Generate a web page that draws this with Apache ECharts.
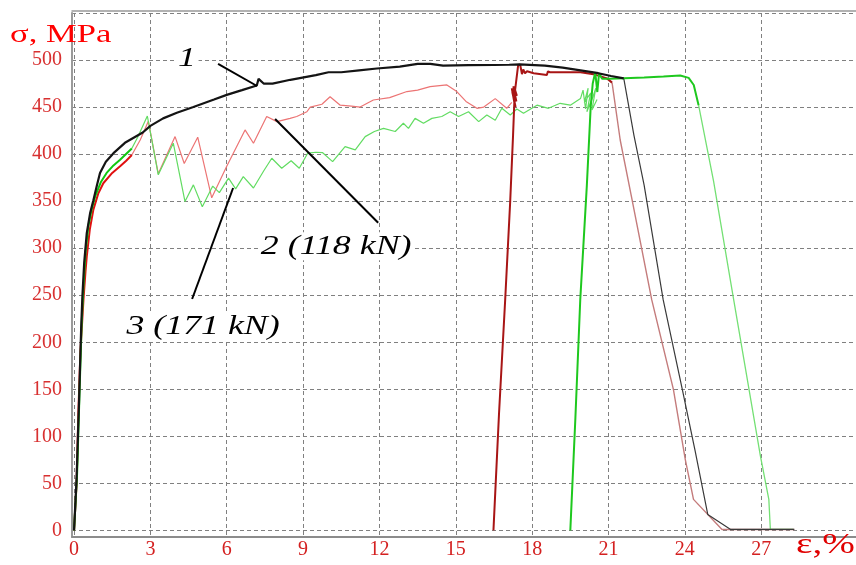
<!DOCTYPE html>
<html>
<head>
<meta charset="utf-8">
<script src="https://cdn.jsdelivr.net/npm/echarts@6/dist/echarts.min.js"></script>
<style>html,body{margin:0;padding:0;background:#fff;overflow:hidden}#c{width:856px;height:565px}</style>
</head>
<body>
<div id="c"></div>
<script>
// strain ε (%) , stress σ (MPa)
const xTicks = [0, 3, 6, 9, 12, 15, 18, 21, 24, 27];
const xGrid = [0, 3, 6, 9, 12, 15, 18, 21, 24, 27, 30];
const yTicks = [0, 50, 100, 150, 200, 250, 300, 350, 400, 450, 500];
const yGrid = [0, 50, 100, 150, 200, 250, 300, 350, 400, 450, 500, 550];

// Curve 1 (black)
const curve1Main = [[0,0],[0.1,55],[0.2,140],[0.28,215],[0.33,250],[0.4,285],[0.5,316],[0.63,337],[0.76,351],[0.9,367],[1.02,380],[1.25,392],[1.55,401],[2.0,412],[2.7,423],[3.0,430],[3.5,438],[4.04,444],[4.69,450],[5.5,458],[6.0,463],[6.6,468],[7.18,473],[7.25,480],[7.31,479],[7.45,475],[7.8,475],[8.5,479],[9.5,484],[10.0,487],[10.5,487],[11.2,489],[11.9,491],[12.8,493],[13.5,496],[14.0,496],[14.5,494],[15.5,494.5],[16.5,494.7],[17.1,495],[17.5,495.4],[18.5,494],[19.2,492],[19.9,489],[20.6,486],[21.1,483],[21.6,480.5]];
const curve1Drop = [[21.6,480.5],[22.0,420],[22.4,367],[23.15,245],[23.9,150],[24.4,85],[24.9,17],[25.8,1],[28.3,1]];

// Curve 2 (red, 118 kN)
const curve2Start = [[0,0],[0.1,50],[0.17,125],[0.25,190],[0.37,245],[0.45,275],[0.5,291],[0.62,320],[0.76,341],[0.95,358],[1.15,369],[1.5,380],[1.81,387],[2.05,393],[2.27,399]];
const curve2Wave = [[2.27,399],[2.6,415],[2.92,435],[3.31,379],[3.97,418.6],[4.33,390],[4.86,418],[5.41,353.5],[6.0,387],[6.72,425.7],[7.05,411.6],[7.57,440],[7.97,434.5],[8.49,438],[8.75,440],[9.15,445],[9.28,450],[9.74,453],[10.06,461],[10.46,452],[10.9,451],[11.24,450],[11.76,457.5],[12.4,460],[13.08,466.5],[13.5,468],[13.99,471.7],[14.65,473.5],[15.04,466.5],[15.4,456],[15.83,448.7],[16.1,450],[16.55,459],[17.0,448.7],[17.2,455]];
const curve2Reload = [[16.48,0],[16.7,125],[16.94,245],[17.14,351],[17.25,420],[17.3,455],[17.2,470],[17.35,450],[17.22,466],[17.38,456],[17.26,472],[17.4,462],[17.33,468],[17.45,494.7],[17.53,495],[17.6,485],[17.65,490],[17.72,486],[17.8,488],[18.06,486],[18.58,484],[18.62,488],[18.7,487],[19.4,487],[19.9,487],[20.41,485],[20.94,480.5],[21.14,476]];
const curve2Drop = [[21.14,476],[21.46,415],[21.9,355],[22.7,245],[23.55,150],[24.02,75],[24.34,33],[25.46,1],[28.3,1]];

// Curve 3 (green, 171 kN)
const curve3Start = [[0,0],[0.12,60],[0.22,150],[0.3,220],[0.37,259],[0.45,295],[0.56,323],[0.7,342],[0.83,355],[1.05,370],[1.28,380],[1.55,388],[1.81,394],[2.27,406]];
const curve3Wave = [[2.27,406],[2.5,418],[2.88,440.5],[3.31,378],[3.9,411.6],[4.36,349.6],[4.69,367.3],[5.04,344],[5.45,366],[5.71,359],[6.07,374.5],[6.35,363],[6.65,376],[7.05,364],[7.45,382],[7.77,395.6],[8.16,385],[8.53,393],[8.85,385],[9.18,401],[9.5,402],[9.77,401.5],[10.16,392],[10.65,408],[11.05,404.5],[11.44,418.6],[11.8,424],[12.16,427.4],[12.62,424],[12.94,432.8],[13.14,427.4],[13.4,438],[13.73,432.8],[14.06,438],[14.45,440],[14.78,445],[15.11,440],[15.5,445],[15.9,434.5],[16.22,441.6],[16.55,436],[16.81,448.7],[17.14,441.6],[17.4,448],[17.66,443.5],[18.19,452],[18.64,448.7],[19.1,454],[19.5,452],[19.9,459],[20.0,468],[20.1,448],[20.2,470],[20.05,455],[20.3,465],[20.15,445],[20.4,462],[20.25,450],[20.5,470],[20.35,447],[20.55,458]];
const curve3Reload = [[19.5,0],[19.7,120],[19.89,245],[20.15,367],[20.3,450],[20.38,475],[20.48,487],[20.56,466],[20.63,486],[20.75,480],[21.07,480],[21.6,480.7],[22.4,481.5],[23.16,482.5],[23.82,483.5],[24.15,481],[24.35,473.5],[24.54,452]];
const curve3Drop = [[24.54,452],[25.13,371],[25.92,245],[26.97,79],[27.3,33],[27.36,1],[28.26,1]];

const annotations = [
  {label: '1', at: [4.44, 502], from: [5.66, 495.8], to: [7.19, 472.4]},
  {label: '2 (118 kN)', at: [10.3, 302], from: [11.95, 327], to: [7.9, 437.4]},
  {label: '3 (171 kN)', at: [5.07, 217], from: [4.64, 246], to: [6.25, 364]}
];

const chart = echarts.init(document.getElementById('c'), null, {renderer: 'canvas'});
const serif = '"Liberation Serif", "DejaVu Serif", serif';
function line(data, color, width, z) {
  return {type: 'line', data: data, showSymbol: false, symbol: 'none', smooth: false,
    lineStyle: {color: color, width: width}, z: z, animation: false, silent: true};
}
const dash = {show: true, showMinLine: true, showMaxLine: false, lineStyle: {color: '#808080', width: 1, type: [4, 3]}};
chart.setOption({
  animation: false,
  backgroundColor: '#fff',
  grid: {left: 72, top: 13, width: 791, height: 524, outerBoundsMode: 'none'},
  xAxis: [{
    type: 'value', min: -0.08, max: 31,
    axisLine: {show: true, onZero: false, lineStyle: {color: '#8c8c8c', width: 2}},
    axisTick: {show: false, customValues: xGrid},
    axisLabel: {margin: 3, color: '#d42020', fontFamily: serif, fontSize: 20, customValues: xTicks},
    splitLine: dash
  }, {
    type: 'value', position: 'top', min: -0.08, max: 31, offset: 2,
    axisLine: {show: true, onZero: false, lineStyle: {color: '#999', width: 1.5}},
    axisTick: {show: false}, axisLabel: {show: false}, splitLine: {show: false}
  }],
  yAxis: {
    type: 'value', min: -7, max: 550,
    axisLine: {show: true, onZero: false, lineStyle: {color: '#9a9a9a', width: 2}},
    axisTick: {show: false, customValues: yGrid},
    axisLabel: {margin: 10, color: '#d83030', fontFamily: serif, fontSize: 20, customValues: yTicks},
    splitLine: {show: true, showMinLine: true, showMaxLine: true, lineStyle: {color: '#808080', width: 1, type: [4, 3]}}
  },
  series: [
    line(curve2Wave, '#ec7474', 1.2, 3),
    line(curve3Wave, '#62dc62', 1.2, 3),
    line(curve2Drop, '#c47c7c', 1.4, 3),
    line(curve3Drop, '#74e074', 1.3, 3),
    line(curve1Drop, '#3a3a3a', 1.2, 4),
    line(curve2Reload, '#a81515', 2, 5),
    line(curve3Reload, '#1ec81e', 2, 5),
    line(curve2Start, '#e01010', 2, 6),
    line(curve3Start, '#10c810', 2, 6),
    line(curve1Main, '#141414', 2.2, 7)
  ]
});

function px(p) { return chart.convertToPixel({xAxisIndex: 0, yAxisIndex: 0}, p); }
const gfx = [];
annotations.forEach(a => {
  const f = px(a.from), t = px(a.to), c = px(a.at);
  gfx.push({type: 'line', shape: {x1: f[0], y1: f[1], x2: t[0], y2: t[1]},
    style: {stroke: '#000', lineWidth: 2}, z: 100});
  gfx.push({type: 'text', x: c[0], y: c[1], scaleX: 1.28, z: 101,
    style: {text: a.label, fill: '#000', font: 'italic 28px ' + serif,
      align: 'center', verticalAlign: 'middle', backgroundColor: '#fff', padding: [0, 2]}});
});
gfx.push({type: 'text', x: 10, y: 35, scaleX: 1.33, z: 101,
  style: {text: 'σ, MPa', fill: '#ff0000', font: '26px ' + serif, align: 'left', verticalAlign: 'middle'}});
gfx.push({type: 'text', x: 796, y: 545, scaleX: 1.35, z: 101,
  style: {text: 'ε,%', fill: '#e00000', font: '29px ' + serif, align: 'left', verticalAlign: 'middle'}});
chart.setOption({graphic: gfx});
</script>
</body>
</html>
